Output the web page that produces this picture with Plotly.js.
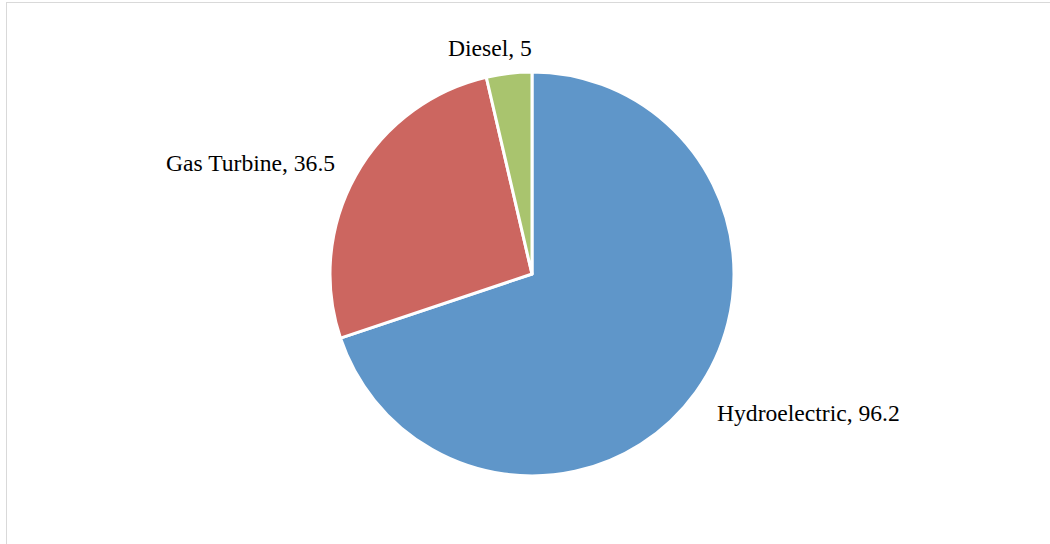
<!DOCTYPE html>
<html>
<head>
<meta charset="utf-8">
<script src="https://cdn.plot.ly/plotly-3.0.1.min.js"></script>
<style>
html,body{margin:0;padding:0;background:#fff;overflow:hidden;}
#wrap{position:relative;width:1050px;height:544px;}
#chart{position:absolute;left:0;top:0;width:1050px;height:544px;}
#frame{position:absolute;left:6px;top:2px;width:1100px;height:600px;border:1.5px solid #d9d9d9;box-sizing:border-box;pointer-events:none;}
</style>
</head>
<body>
<div id="wrap"><div id="chart"></div><div id="frame"></div></div>
<script>
const categories = ["Hydroelectric", "Gas Turbine", "Diesel"];
const values = [96.2, 36.5, 5];
const colors = ["#5F96C9", "#CC6660", "#A9C46E"];
// label anchor positions (paper fraction)
const labelX = [808/1050, 250.5/1050, 490/1050];
const labelY = [1 - 413/544, 1 - 163/544, 1 - 48/544];

const trace = {
  type: "pie",
  labels: categories,
  values: values,
  sort: false,
  direction: "clockwise",
  rotation: 0,
  marker: {colors: colors, line: {color: "#ffffff", width: 3}},
  textinfo: "none",
  hoverinfo: "label+value",
  showlegend: false,
  domain: {x: [330/1050, 734/1050], y: [68/544, 472/544]}
};

const annotations = categories.map((c, i) => ({
  text: c + ", " + values[i],
  x: labelX[i], y: labelY[i], xref: "paper", yref: "paper",
  xanchor: "center", yanchor: "middle", showarrow: false,
  font: {family: "Liberation Serif, Times New Roman, serif", size: 23.6, color: "#000"}
}));

Plotly.newPlot("chart", [trace], {
  width: 1050, height: 544,
  margin: {l: 0, r: 0, t: 0, b: 0},
  paper_bgcolor: "#ffffff",
  annotations: annotations
}, {displayModeBar: false, staticPlot: true});
</script>
</body>
</html>
